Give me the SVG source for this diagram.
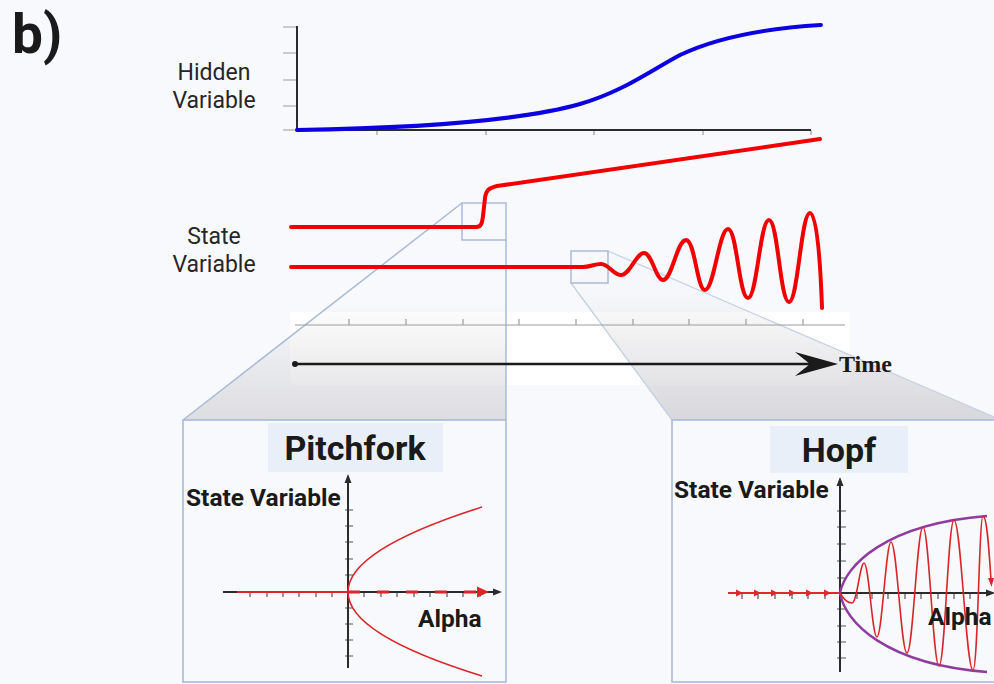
<svg xmlns="http://www.w3.org/2000/svg" width="994" height="684" viewBox="0 0 994 684">
<defs>
<style>
.lbl{font-family:Roboto,"Liberation Sans",sans-serif;fill:#262626}
.bold{font-family:Roboto,"Liberation Sans",sans-serif;font-weight:bold;fill:#1a1a1a}
.axis{stroke:#2b2b2b;stroke-width:2;fill:none}
.tick{stroke:#9c9c9c;stroke-width:1.2;fill:none}
.ptick{stroke:#555;stroke-width:1.2;fill:none}
.red{stroke:#f00000;stroke-width:4;fill:none;stroke-linecap:round;stroke-linejoin:round}
.thinred{stroke:#d9262a;stroke-width:1.6;fill:none}
.frame{stroke:#a9bad8;stroke-width:1.6;fill:#f8f9fd}
.proj{stroke:#a9bad8;stroke-width:1.5;fill:none}
.titlebg{fill:#e8eff8}
</style>
<linearGradient id="gL" gradientUnits="userSpaceOnUse" x1="0" y1="203" x2="0" y2="420">
<stop offset="0.45" stop-color="#d4d4d8" stop-opacity="0"/>
<stop offset="1" stop-color="#d4d4d8" stop-opacity="0.75"/>
</linearGradient>
<linearGradient id="gR" gradientUnits="userSpaceOnUse" x1="0" y1="251" x2="0" y2="420">
<stop offset="0.25" stop-color="#d0d0d4" stop-opacity="0.05"/>
<stop offset="1" stop-color="#d0d0d4" stop-opacity="0.8"/>
</linearGradient>
</defs>
<rect x="0" y="0" width="994" height="684" fill="#f8f9fd"/>

<g id="label-b"><text class="bold" x="12" y="53" font-size="55" fill="#000">b)</text></g>

<g id="hidden-chart">
<text class="lbl" x="214" y="80" font-size="23" text-anchor="middle">Hidden</text>
<text class="lbl" x="214" y="108" font-size="23" text-anchor="middle">Variable</text>
<path class="tick" d="M283,27H297M283,53H297M283,80H297M283,106H297M283,130H297M377,130V135M486,130V135M594,130V135M703,130V135M811,130V135"/>
<path class="axis" d="M297,26V130H811"/>
<path d="M297,130 C420,128 520,121 580,104 C622,92 650,71 680,55 C720,36 770,28 821,25" stroke="#0a00e0" stroke-width="4" fill="none" stroke-linecap="round"/>
</g>

<rect x="290" y="312" width="560" height="73" fill="#ffffff"/>

<g id="connectors">
<polygon points="462,203 506,203 506,420 183,420" fill="url(#gL)"/>
<polygon points="571,283 608,251 994,417 994,420 672,420" fill="url(#gR)"/>
<path class="proj" d="M462,203 L183,420 M506,240 V420"/>
<path d="M608,251 L994,417 M571,283 L672,420" stroke="#c6d1e5" stroke-width="1.3" fill="none"/>
<rect class="proj" x="462" y="203" width="44" height="37"/>
<rect class="proj" x="571" y="251" width="37" height="32"/>
</g>

<g id="time-axis">
<path class="tick" d="M295,325H845M349,319V325M406,319V325M463,319V325M519,319V325M576,319V325M633,319V325M689,319V325M746,319V325M803,319V325"/>
<circle cx="295" cy="364" r="3" fill="#1a1a1a"/>
<path d="M295,364H815" stroke="#1a1a1a" stroke-width="2.6"/>
<path d="M838,364 L795,352 L810,364 L795,376 Z" fill="#1a1a1a"/>
<text x="839" y="372" font-family="'Liberation Serif',serif" font-weight="bold" font-size="24" fill="#1a1a1a">Time</text>
</g>

<g id="state-chart">
<text class="lbl" x="214" y="244" font-size="23" text-anchor="middle">State</text>
<text class="lbl" x="214" y="272" font-size="23" text-anchor="middle">Variable</text>
<path class="red" d="M291,227 L476,227 C481,227 482,224 483,216 L485,198 C486,190 489,188 497,186 L820,139"/>
<path class="red" d="M291,267 L583,267 C590,267 594,264 601,264 C609,264 613,275 621,275 C630,275 636,253 644,253 C652,253 656,280 663,280 C672,280 677,240 686,240 C695,240 697,290 705,290 C714,290 719,229 728,229 C737,229 739,298 748,298 C757,298 760,220 769,220 C778,220 780,302 789,302 C798,302 801,213 810,213 C816,213 820,250 822,308"/>
</g>

<g id="pitchfork-panel">
<rect class="frame" x="183" y="420" width="323" height="262"/>
<rect class="titlebg" x="268" y="423" width="175" height="49"/>
<text class="bold" x="355" y="460" font-size="34" text-anchor="middle">Pitchfork</text>
<text class="bold" x="186" y="506" font-size="24.5">State Variable</text>
<text class="bold" x="418" y="627" font-size="24.5">Alpha</text>
<path class="ptick" d="M345,510H353M345,526H353M345,542H353M345,559H353M345,575H353M345,608H353M345,624H353M345,640H353M345,656H353M250,592V597M267,592V597M283,592V597M299,592V597M316,592V597M332,592V597M364,592V597M381,592V597M397,592V597M414,592V597M430,592V597M447,592V597M463,592V597M480,592V597"/>
<path class="axis" d="M348,668V480M223,592H496" stroke-width="1.8"/>
<path d="M348,474 L344.5,483 L351.5,483 Z M502,592 L493,588.5 L493,595.5 Z" fill="#2b2b2b"/>
<path d="M237,592H348" stroke="#d9262a" stroke-width="2"/>
<path d="M348,592H479" stroke="#d9262a" stroke-width="3.2" stroke-dasharray="12 17"/>
<path d="M489,592 L477,586.5 L477,597.5 Z" fill="#d9262a"/>
<path class="thinred" d="M348,592 Q348,549.5 482,507 M348,592 Q348,634.5 482,676"/>
</g>

<g id="hopf-panel">
<rect class="frame" x="672" y="420" width="330" height="262"/>
<rect class="titlebg" x="770" y="426" width="138" height="47"/>
<text class="bold" x="839" y="462" font-size="34" text-anchor="middle">Hopf</text>
<text class="bold" x="674" y="498" font-size="24.5">State Variable</text>
<path class="ptick" d="M837,511H846M837,527H846M837,544H846M837,561H846M837,578H846M837,609H846M837,626H846M837,642H846M837,658H846M742,593V599M758,593V599M775,593V599M792,593V599M808,593V599M825,593V599M857,593V599M872,593V599M888,593V599M905,593V599M921,593V599M938,593V599M954,593V599M970,593V599"/>
<path class="axis" d="M840,672V484M728,593H988" stroke-width="1.8"/>
<path d="M840,477 L836.5,486 L843.5,486 Z M995,593 L986,589.5 L986,596.5 Z" fill="#2b2b2b"/>
<path d="M728,593H840" stroke="#e0282c" stroke-width="1.8"/>
<path d="M743,593l-7,-3.5v7z M761,593l-7,-3.5v7z M778,593l-7,-3.5v7z M796,593l-7,-3.5v7z M813,593l-7,-3.5v7z M831,593l-7,-3.5v7z" fill="#e0282c"/>
<path d="M840,593 C845,566 885,524 987,516 M840,593 C845,622 885,664 987,672" stroke="#8e3c9e" stroke-width="2.4" fill="none"/>
<path class="thinred" d="M840,593 C844,600 848,603 852,603 C857,603 860,563 864,563 C869,563 872,637 877,637 C882,637 886,542 891,542 C897,542 901,653 907,653 C913,653 917,527 923,527 C929,527 933,666 939,666 C945,666 948,520 954,520 C961,520 966,670 973,670 C978,670 979,516 983,516 C987,516 989,550 991,580"/>
<path d="M991.5,587 L988,578 L994,578 Z" fill="#d9262a"/>
<text class="bold" x="928" y="625" font-size="24.5">Alpha</text>
</g>
</svg>
